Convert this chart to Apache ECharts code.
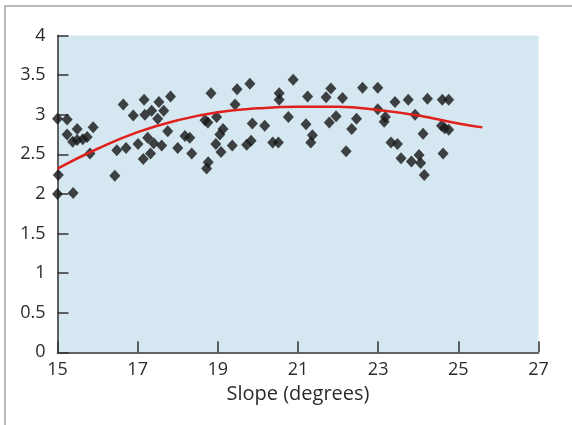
<!DOCTYPE html>
<html>
<head>
<meta charset="utf-8">
<script src="https://cdn.jsdelivr.net/npm/echarts@6/dist/echarts.min.js"></script>
<style>
html,body{margin:0;padding:0;background:#fff;}
#chart{width:572px;height:425px;}
</style>
</head>
<body>
<div id="chart"></div>
<script>
// Scatter data: slope (degrees) and value
const slopeX = [
  15.0,15.24,15.24,15.49,15.38,15.49,15.63,15.74,15.89,15.81,15.02,15.0,15.39,
  16.43,16.48,16.64,16.71,16.89,17.01,17.14,17.16,17.18,17.25,17.32,17.35,17.4,17.5,17.53,
  17.65,17.6,17.75,17.82,18.0,18.18,18.3,18.35,18.68,18.75,18.72,18.76,18.83,18.95,18.97,19.05,19.08,19.13,19.36,19.43,19.48,19.72,19.8,19.83,19.86,
  20.17,20.37,20.51,20.53,20.53,20.76,20.88,21.2,21.24,21.32,21.36,21.7,21.78,21.82,21.95,22.11,22.2,22.34,22.46,22.61,
  22.99,22.99,23.15,23.18,23.32,23.42,23.48,23.57,23.75,23.83,23.92,24.02,24.06,24.12,24.15,24.23,24.58,24.6,24.62,24.66,24.76,24.76
];
const valueY = [
  2.95,2.94,2.75,2.82,2.66,2.68,2.69,2.72,2.84,2.51,2.24,2.0,2.01,
  2.23,2.55,3.13,2.58,2.99,2.63,2.44,3.19,3.0,2.71,2.51,3.05,2.64,2.95,3.16,
  3.05,2.61,2.79,3.23,2.58,2.73,2.71,2.51,2.93,2.90,2.32,2.40,3.27,2.63,2.97,2.75,2.53,2.82,2.61,3.13,3.32,2.62,3.39,2.67,2.89,
  2.86,2.65,2.65,3.27,3.19,2.97,3.44,2.88,3.23,2.65,2.74,3.22,2.90,3.33,2.98,3.21,2.54,2.82,2.95,3.34,
  3.34,3.07,2.91,2.97,2.65,3.16,2.63,2.45,3.19,2.41,3.0,2.49,2.39,2.76,2.24,3.2,2.86,3.19,2.51,2.83,3.19,2.81
];
// Fitted curve
const curveX = [15,16,17,18,19,20,21,22,23,24,25,25.6];
const curveY = [2.32,2.57,2.78,2.93,3.03,3.08,3.10,3.10,3.06,2.99,2.89,2.84];
const xAxisTitle = 'Slope (degrees)';

const scatterData = slopeX.map((x,i)=>[x,valueY[i]]);
const curveData = curveX.map((x,i)=>[x,curveY[i]]);

const chart = echarts.init(document.getElementById('chart'), null, {renderer:'canvas'});
const axisText = {color:'#2b2b2b', fontFamily:'Open Sans', fontSize:18};
chart.setOption({
  animation:false,
  graphic:[{type:'rect', z:-10, shape:{x:5,y:6,width:800,height:600}, style:{fill:'none', stroke:'#a3a3a3', lineWidth:1.5}}],
  grid:{left:57.5, right:33.5, top:35.5, bottom:72.7, show:true, backgroundColor:'#d5e7f0', borderWidth:0},
  xAxis:{type:'value', min:15, max:27, interval:2,
    name:xAxisTitle, nameLocation:'middle', nameGap:32,
    nameTextStyle:{color:'#2b2b2b', fontFamily:'Open Sans', fontSize:20},
    axisLine:{show:true, onZero:false, lineStyle:{color:'#333', width:1.5}},
    axisTick:{show:true, inside:true, length:11, lineStyle:{color:'#333', width:1.5}},
    axisLabel:Object.assign({margin:9, showMinLabel:true, showMaxLabel:true}, axisText),
    splitLine:{show:false}},
  yAxis:{type:'value', min:0, max:4, interval:0.5,
    axisLine:{show:true, onZero:false, lineStyle:{color:'#333', width:1.5}},
    axisTick:{show:true, inside:true, length:11, lineStyle:{color:'#333', width:1.5}},
    axisLabel:Object.assign({margin:12}, axisText),
    splitLine:{show:false}},
  series:[
    {type:'scatter', data:scatterData, symbol:'diamond', symbolSize:[11,12],
      itemStyle:{color:'#161616'}, z:2},
    {type:'line', data:curveData, smooth:true, showSymbol:false, symbol:'none',
      lineStyle:{color:'#e0201c', width:2.5}, z:3}
  ]
});
</script>
</body>
</html>
